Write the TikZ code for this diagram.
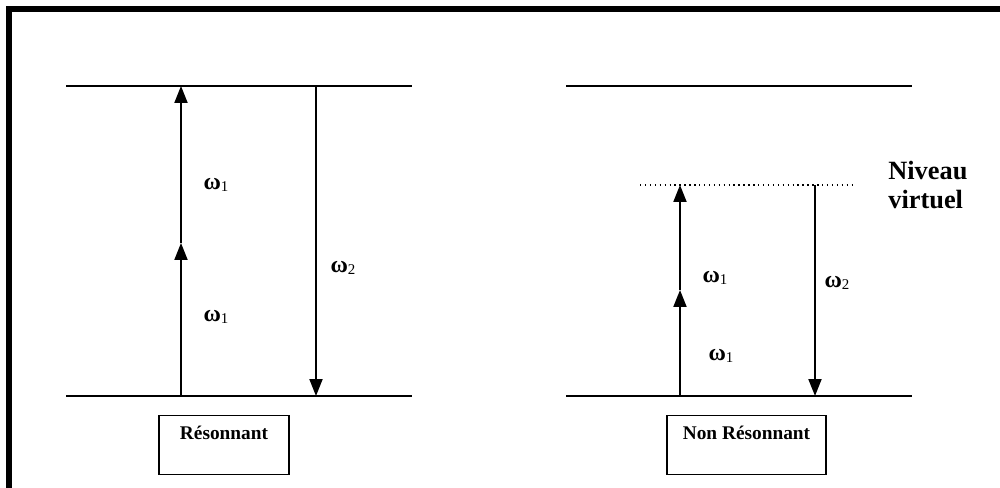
\documentclass[tikz,border=0pt]{standalone}
\usepackage{fontspec}
\setmainfont{Liberation Serif}
\usepackage{tikz}
\usetikzlibrary{arrows.meta}

\newcommand{\om}[1]{{\fontsize{13.5}{15}\selectfont\bfseries ω}\raisebox{-1.5pt}{\fontsize{8.5}{10}\selectfont #1}}

\begin{document}
\begin{tikzpicture}[x=0.02cm,y=0.02cm, every node/.style={font=\fontsize{11}{13}\selectfont\bfseries}]
			\tikzset{
				level/.style={line width=1.1pt},
				trans/.style={line width=1.1pt,-{Triangle[length=0.34cm,width=0.26cm]}},
				omlabel/.style={font=\normalfont,inner sep=0pt},
				namebox/.style={draw,line width=0.8pt,minimum width=2.6cm,minimum height=1.18cm,text depth=0.5cm}
			}
			\useasboundingbox (0,0) rectangle (1000,487);
			\clip (0,0) rectangle (1000,487);
			\draw[line width=3.4pt] (9,-20) -- (9,478) -- (1020,478);
			
			% levels, left
			\coordinate (g1) at (66,401);
			\coordinate (g2) at (412,401);
			\coordinate (e1) at (66,91);
			\coordinate (e2) at (412,91);
			\coordinate (a0) at (181,91);
			\coordinate (a1) at (181,244);
			\coordinate (a2) at (181,401);
			\coordinate (b1) at (316,401);
			\coordinate (b2) at (316,91);
			% levels, right
			\coordinate (h1) at (566,401);
			\coordinate (h2) at (912,401);
			\coordinate (f1) at (566,91);
			\coordinate (f2) at (912,91);
			\coordinate (v1) at (640,302);
			\coordinate (v2) at (853,302);
			\coordinate (c0) at (680,91);
			\coordinate (c1) at (680,197);
			\coordinate (c2) at (680,302);
			\coordinate (d1) at (815,302);
			\coordinate (d2) at (815,91);
			
			\draw[level] (g1) -- (g2);
			\draw[level] (e1) -- (e2);
			\draw[trans] (a0) -- (a1);
			\draw[trans] (a1) -- (a2);
			\draw[trans] (b1) -- (b2);
			
			\draw[level] (h1) -- (h2);
			\draw[level] (f1) -- (f2);
			\draw[dotted, line width=0.8pt] (v1) -- (v2);
			\draw[trans] (c0) -- (c1);
			\draw[trans] (c1) -- (c2);
			\draw[trans] (d1) -- (d2);
			
			\node[omlabel] (w1) at (216,302) {\om{1}};
			\node[omlabel] (w2) at (216,170) {\om{1}};
			\node[omlabel] (w3) at (343,219) {\om{2}};
			\node[omlabel] (w4) at (715,209) {\om{1}};
			\node[omlabel] (w5) at (721,131) {\om{1}};
			\node[omlabel] (w6) at (837,204) {\om{2}};
			\node[anchor=north west, align=left, inner sep=0pt, font=\fontsize{15}{16.4}\selectfont\bfseries] (virt) at (888,326) {Niveau\\virtuel};
			
			\node[namebox] (res) at (224,42) {Résonnant};
			\node[namebox, minimum width=3.18cm] (nonres) at (746.5,42) {Non Résonnant};
		\end{tikzpicture}
\end{document}
